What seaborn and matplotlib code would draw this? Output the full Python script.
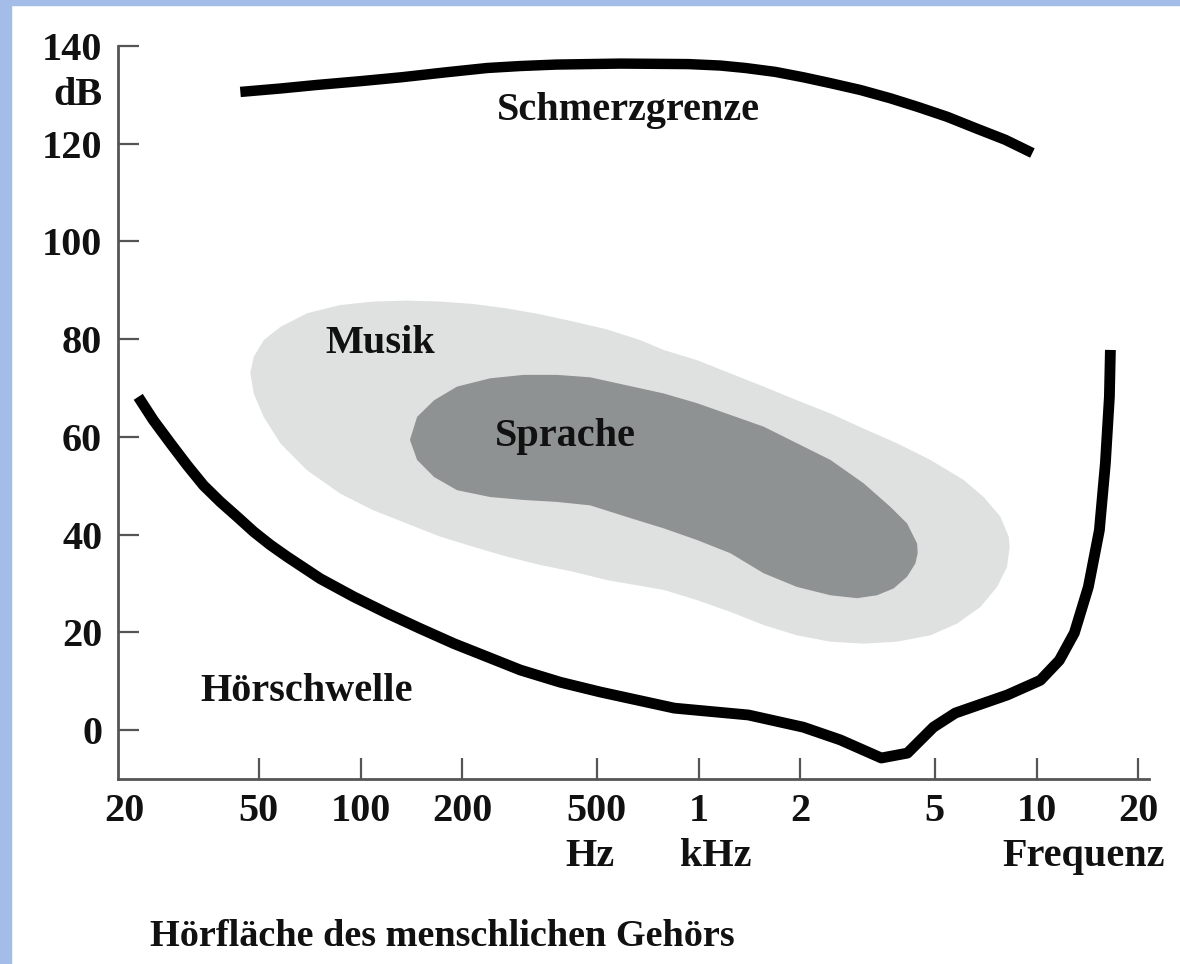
import matplotlib
matplotlib.use("Agg")
import matplotlib.pyplot as plt
import matplotlib.patches as mpatches
from matplotlib.ticker import NullLocator
import seaborn as sns
import pandas as pd

# ---------------- data (Hz, dB) ----------------
schmerz_freq = [44.1, 57.9, 73.5, 99.8, 132, 178, 237, 297, 379, 587, 932, 1160, 1376, 1687,
                2041, 2454, 3010, 3692, 4467, 5444, 6590, 8082, 9716]
schmerz_db = [130.6, 131.3, 132.0, 132.8, 133.6, 134.6, 135.5, 135.9, 136.2, 136.4, 136.3, 136.0,
              135.5, 134.7, 133.6, 132.4, 131.0, 129.3, 127.5, 125.5, 123.2, 120.8, 118.1]

hoer_freq = [22.0, 24.4, 27.4, 30.7, 34.3, 38.5, 43.1, 48.3, 54.1, 60.6, 76.0, 95.4, 120, 150,
             189, 237, 297, 390, 512, 848, 1404, 2041, 2626, 3472, 4147, 4950, 5748, 8193,
             10258, 11678, 12932, 14224, 15332, 15974, 16416, 16530]
hoer_db = [68.2, 63.4, 58.7, 54.2, 50.1, 46.7, 43.7, 40.6, 37.9, 35.5, 31.0, 27.3, 23.9, 20.8,
           17.7, 15.0, 12.3, 9.8, 7.8, 4.5, 3.1, 0.6, -2.0, -5.7, -4.7, 0.6, 3.5, 7.2,
           10.2, 14.3, 19.9, 29.3, 40.9, 54.6, 68.2, 77.8]

musik_freq = [47.2, 48.3, 51.7, 57.9, 69.4, 87.1, 109, 137, 172, 216, 271, 340, 427, 536, 673,
              788, 990, 1242, 1558, 1955, 2454, 3079, 3864, 4849, 6083, 6971, 7812, 8266, 8322,
              8176, 7638, 6816, 5816, 4849, 3864, 3079, 2454, 1955, 1558, 1242, 990, 788, 650,
              536, 427, 340, 271, 216, 172, 137, 109, 87.1, 69.4, 57.9, 51.7, 48.3]
musik_db = [73.1, 76.4, 79.8, 82.5, 85.3, 87.0, 87.7, 87.9, 87.7, 87.2, 86.3, 85.1, 83.6, 82.0, 79.8,
            77.8, 75.7, 73.0, 70.3, 67.5, 64.8, 61.7, 58.7, 55.3, 51.2, 47.7, 43.7, 39.6, 37.5,
            33.4, 29.3, 25.2, 21.8, 19.4, 18.1, 17.7, 18.1, 19.4, 21.5, 24.2, 26.6, 28.7, 29.7,
            30.7, 32.4, 33.8, 35.5, 37.5, 39.6, 42.3, 45.0, 48.4, 53.2, 58.7, 64.1, 68.9]

sprache_freq = [140, 147, 165, 193, 242, 304, 381, 478, 628, 788, 990, 1242, 1558, 1955, 2454,
                3079, 3692, 4138, 4430, 4448, 4378, 4138, 3776, 3372, 2944, 2454, 1955, 1558,
                1242, 990, 788, 628, 478, 381, 304, 242, 193, 165, 147]
sprache_db = [59.4, 64.1, 67.5, 70.3, 72.0, 72.7, 72.7, 72.2, 70.4, 68.9, 66.9, 64.5, 62.1, 58.7, 55.3,
              50.5, 45.7, 42.3, 38.2, 36.2, 34.1, 31.4, 29.0, 27.6, 27.0, 27.6, 29.3, 32.1,
              36.2, 38.9, 41.3, 43.4, 46.0, 46.7, 47.1, 47.7, 49.1, 51.8, 55.3]

x_ticks = [20, 50, 100, 200, 500, 1000, 2000, 5000, 10000, 20000]
x_ticklabels = ["20", "50", "100", "200", "500", "1", "2", "5", "10", "20"]
y_ticks = [0, 20, 40, 60, 80, 100, 120, 140]

# ---------------- style ----------------
sns.set_theme(style="white")
plt.rcParams["font.family"] = ["Liberation Serif", "DejaVu Serif"]
plt.rcParams["font.weight"] = "bold"

FS = 29
TXT = "#111111"
W, H = 1180, 964
fig = plt.figure(figsize=(W / 100, H / 100), dpi=100, facecolor="white")
blue = "#a3bce8"
fig.patches.append(mpatches.Rectangle((0, 0), 11 / W, 1, transform=fig.transFigure,
                                      color=blue, zorder=-5))
fig.patches.append(mpatches.Rectangle((0, 1 - 5 / H), 1, 5 / H, transform=fig.transFigure,
                                      color=blue, zorder=-5))

ax = fig.add_axes([117.5 / W, 1 - 779 / H, (1149 - 117.5) / W, (779 - 46) / H])
ax.set_facecolor("none")
ax.set_xscale("log")
ax.set_xlim(19.1, 21500)
ax.set_ylim(-10, 140)

# regions
ax.fill(musik_freq, musik_db, color="#dfe0e0", lw=0, zorder=1)
ax.fill(sprache_freq, sprache_db, color="#8f9292", lw=0, zorder=2)

# curves
df_s = pd.DataFrame({"f": schmerz_freq, "db": schmerz_db})
df_h = pd.DataFrame({"f": hoer_freq, "db": hoer_db})
sns.lineplot(data=df_s, x="f", y="db", ax=ax, color="black", lw=7.5, sort=False,
             estimator=None, zorder=3, solid_capstyle="butt", solid_joinstyle="round")
sns.lineplot(data=df_h, x="f", y="db", ax=ax, color="black", lw=7.8, sort=False,
             estimator=None, zorder=3, solid_capstyle="butt", solid_joinstyle="round")

# axes styling
for s in ["top", "right"]:
    ax.spines[s].set_visible(False)
for s in ["left", "bottom"]:
    ax.spines[s].set_color("#555555")
    ax.spines[s].set_linewidth(2)

ax.set_xticks(x_ticks)
ax.set_xticklabels(x_ticklabels)
ax.xaxis.set_minor_locator(NullLocator())
ax.set_yticks(y_ticks)
ax.tick_params(axis="both", which="major", direction="in", length=15, width=1.6,
               color="#555555", labelsize=FS, labelcolor=TXT, left=True, bottom=True)
ax.tick_params(axis="x", pad=10)
ax.tick_params(axis="y", pad=11)
ax.xaxis.get_major_ticks()[0].tick1line.set_visible(False)
ax.set_xlabel("")
ax.set_ylabel("")

# axis unit texts
tr_x = ax.get_xaxis_transform()
ax.text(-0.015, 129.8, "dB", transform=ax.get_yaxis_transform(), ha="right", va="center",
        fontsize=FS, color=TXT)
ax.text(478, -0.106, "Hz", transform=tr_x, ha="center", va="center", fontsize=FS, color=TXT)
ax.text(1121, -0.106, "kHz", transform=tr_x, ha="center", va="center", fontsize=FS, color=TXT)
ax.text(13754, -0.106, "Frequenz", transform=tr_x, ha="center", va="center", fontsize=FS,
        color=TXT)

# region labels
ax.text(620, 126.9, "Schmerzgrenze", ha="center", va="center", fontsize=FS, color=TXT, zorder=5)
ax.text(114, 79.2, "Musik", ha="center", va="center", fontsize=FS, color=TXT, zorder=5)
ax.text(403, 60.0, "Sprache", ha="center", va="center", fontsize=FS, color=TXT, zorder=5)
ax.text(69.5, 8.0, "Hörschwelle", ha="center", va="center", fontsize=FS, color=TXT, zorder=5)

# caption
fig.text(150 / W, 1 - 937 / H, "Hörfläche des menschlichen Gehörs", ha="left", va="center",
         fontsize=27.5, color=TXT)

fig.savefig("out.png", dpi=100, facecolor=fig.get_facecolor())
